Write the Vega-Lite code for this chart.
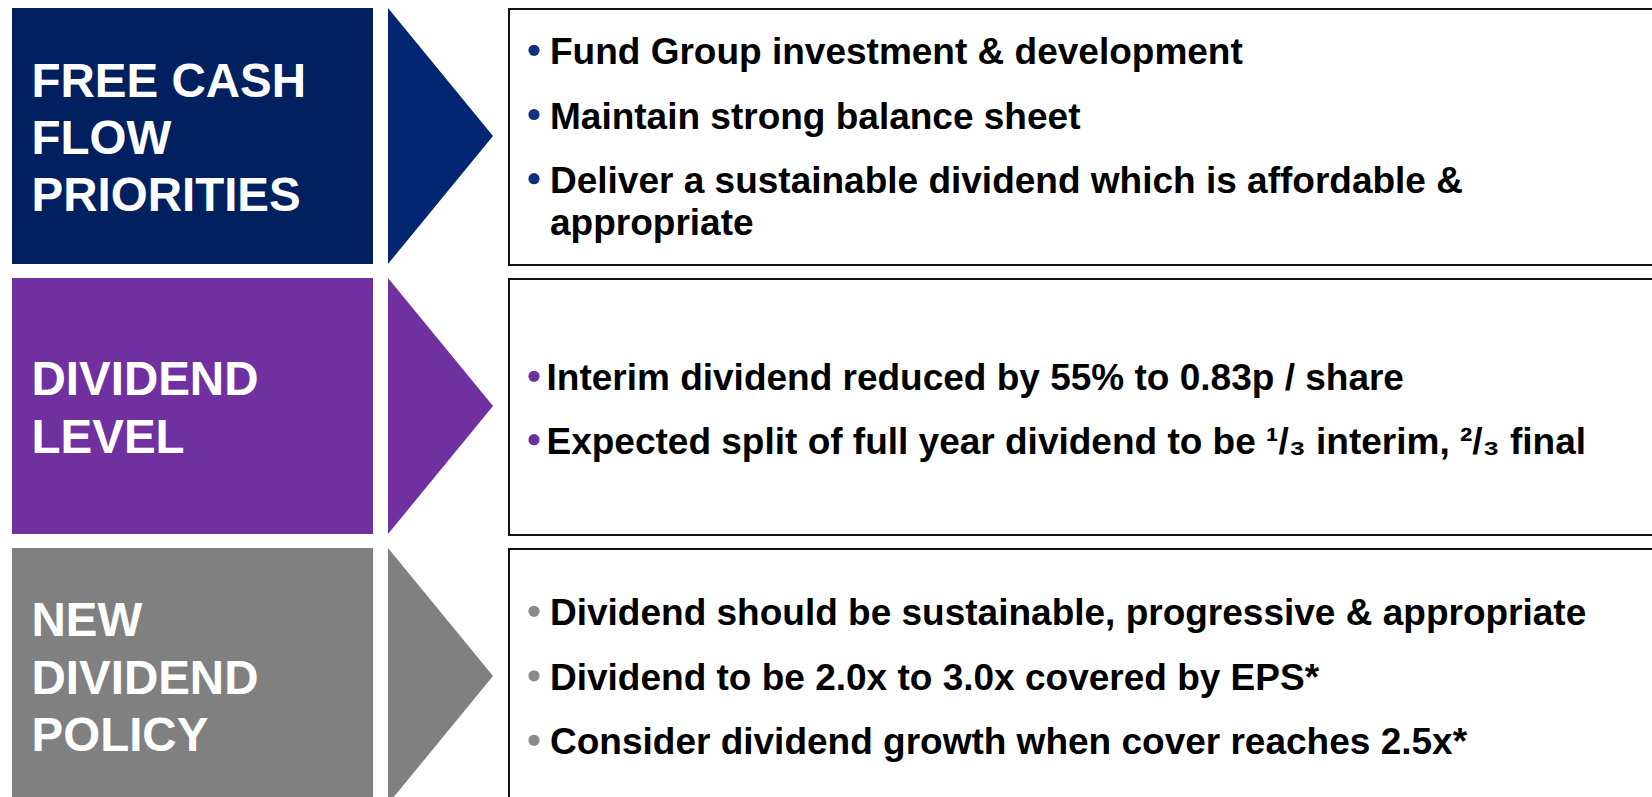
{
  "$schema": "https://vega.github.io/schema/vega-lite/v6.json",
  "background": "white",
  "padding": {"left": 12, "top": 7, "right": 0, "bottom": 0},
  "config": {"view": {"stroke": null}, "font": "Liberation Sans", "text": {"font": "Liberation Sans", "fontWeight": "bold"}},
  "datasets": {
    "sections": [
      {"section": "FREE CASH FLOW PRIORITIES"},
      {"section": "DIVIDEND LEVEL"},
      {"section": "NEW DIVIDEND POLICY"}
    ],
    "labels": [
      {"section": "FREE CASH FLOW PRIORITIES", "line": 1, "text": "FREE CASH"},
      {"section": "FREE CASH FLOW PRIORITIES", "line": 2, "text": "FLOW"},
      {"section": "FREE CASH FLOW PRIORITIES", "line": 3, "text": "PRIORITIES"},
      {"section": "DIVIDEND LEVEL", "line": 1, "text": "DIVIDEND"},
      {"section": "DIVIDEND LEVEL", "line": 2, "text": "LEVEL"},
      {"section": "NEW DIVIDEND POLICY", "line": 1, "text": "NEW"},
      {"section": "NEW DIVIDEND POLICY", "line": 2, "text": "DIVIDEND"},
      {"section": "NEW DIVIDEND POLICY", "line": 3, "text": "POLICY"}
    ],
    "items": [
      {"section": "FREE CASH FLOW PRIORITIES", "item": 1, "text": "Fund Group investment & development"},
      {"section": "FREE CASH FLOW PRIORITIES", "item": 2, "text": "Maintain strong balance sheet"},
      {"section": "FREE CASH FLOW PRIORITIES", "item": 3, "text": ["Deliver a sustainable dividend which is affordable &", "appropriate"]},
      {"section": "DIVIDEND LEVEL", "item": 1, "text": "Interim dividend reduced by 55% to 0.83p / share"},
      {"section": "DIVIDEND LEVEL", "item": 2, "text": "Expected split of full year dividend to be ¹/₃ interim, ²/₃ final"},
      {"section": "NEW DIVIDEND POLICY", "item": 1, "text": "Dividend should be sustainable, progressive & appropriate"},
      {"section": "NEW DIVIDEND POLICY", "item": 2, "text": "Dividend to be 2.0x to 3.0x covered by EPS*"},
      {"section": "NEW DIVIDEND POLICY", "item": 3, "text": "Consider dividend growth when cover reaches 2.5x*"}
    ]
  },
  "spacing": 15,
  "resolve": {"scale": {"color": "independent", "y": "independent"}},
  "hconcat": [
    {
      "width": 361, "height": 790,
      "resolve": {"scale": {"y": "independent"}},
      "layer": [
        {"data": {"name": "sections"},
         "mark": {"type": "rect"},
         "encoding": {
           "y": {"field": "section", "type": "nominal", "sort": null, "axis": null,
                 "scale": {"type": "band", "domain": ["FREE CASH FLOW PRIORITIES", "DIVIDEND LEVEL", "NEW DIVIDEND POLICY"], "range": [0, 796], "paddingInner": 0.0519, "paddingOuter": 0}},
           "color": {"field": "section", "type": "nominal", "legend": null,
                     "scale": {"domain": ["FREE CASH FLOW PRIORITIES", "DIVIDEND LEVEL", "NEW DIVIDEND POLICY"], "range": ["#002060", "#7030A0", "#808080"]}}
         }},
        {"data": {"name": "labels"}, "transform": [{"filter": "datum.section === 'FREE CASH FLOW PRIORITIES'"}],
         "mark": {"type": "text", "align": "left", "baseline": "alphabetic", "dx": -161, "fontSize": 47.5, "fontWeight": "bold", "color": "white"},
         "encoding": {
           "y": {"field": "line", "type": "quantitative", "axis": null, "scale": {"domain": [1, 3], "range": [88.7, 203.3], "nice": false, "zero": false}},
           "text": {"field": "text", "type": "nominal"}
         }},
        {"data": {"name": "labels"}, "transform": [{"filter": "datum.section === 'DIVIDEND LEVEL'"}],
         "mark": {"type": "text", "align": "left", "baseline": "alphabetic", "dx": -161, "fontSize": 47.5, "fontWeight": "bold", "color": "white"},
         "encoding": {
           "y": {"field": "line", "type": "quantitative", "axis": null, "scale": {"domain": [1, 2], "range": [387, 444.7], "nice": false, "zero": false}},
           "text": {"field": "text", "type": "nominal"}
         }},
        {"data": {"name": "labels"}, "transform": [{"filter": "datum.section === 'NEW DIVIDEND POLICY'"}],
         "mark": {"type": "text", "align": "left", "baseline": "alphabetic", "dx": -161, "fontSize": 47.5, "fontWeight": "bold", "color": "white"},
         "encoding": {
           "y": {"field": "line", "type": "quantitative", "axis": null, "scale": {"domain": [1, 3], "range": [628, 743], "nice": false, "zero": false}},
           "text": {"field": "text", "type": "nominal"}
         }}
      ]
    },
    {
      "width": 105, "height": 790,
      "data": {"name": "sections"},
      "mark": {"type": "point", "shape": "M-1,-2.4381L1,0L-1,2.4381Z", "size": 11025, "filled": true, "opacity": 1, "strokeWidth": 0},
      "encoding": {
        "y": {"field": "section", "type": "nominal", "sort": null, "axis": null,
              "scale": {"type": "band", "domain": ["FREE CASH FLOW PRIORITIES", "DIVIDEND LEVEL", "NEW DIVIDEND POLICY"], "range": [0, 796], "paddingInner": 0.0519, "paddingOuter": 0}},
        "color": {"field": "section", "type": "nominal", "legend": null,
                  "scale": {"domain": ["FREE CASH FLOW PRIORITIES", "DIVIDEND LEVEL", "NEW DIVIDEND POLICY"], "range": ["#032672", "#7030A0", "#808080"]}}
      }
    },
    {
      "width": 1144, "height": 790,
      "resolve": {"scale": {"y": "independent"}},
      "layer": [
        {"data": {"name": "sections"},
         "mark": {"type": "rect", "fill": "white", "stroke": "#111111", "strokeWidth": 2, "xOffset": 1, "yOffset": 1, "y2Offset": -1, "x2Offset": 20},
         "encoding": {
           "y": {"field": "section", "type": "nominal", "sort": null, "axis": null,
                 "scale": {"type": "band", "domain": ["FREE CASH FLOW PRIORITIES", "DIVIDEND LEVEL", "NEW DIVIDEND POLICY"], "range": [0, 796], "paddingInner": 0.0519, "paddingOuter": 0}}
         }},
        {"data": {"name": "items"}, "transform": [{"filter": "datum.section === 'FREE CASH FLOW PRIORITIES'"}],
         "mark": {"type": "circle", "size": 125, "opacity": 1, "color": "#12307F", "xOffset": -547, "yOffset": -14},
         "encoding": {
           "y": {"field": "item", "type": "quantitative", "axis": null, "scale": {"domain": [1, 3], "range": [56.3, 184.7], "nice": false, "zero": false}}
         }},
        {"data": {"name": "items"}, "transform": [{"filter": "datum.section === 'FREE CASH FLOW PRIORITIES'"}],
         "mark": {"type": "text", "align": "left", "baseline": "alphabetic", "dx": -531, "fontSize": 37, "fontWeight": "bold", "lineHeight": 42, "color": "black"},
         "encoding": {
           "y": {"field": "item", "type": "quantitative", "axis": null, "scale": {"domain": [1, 3], "range": [56.3, 184.7], "nice": false, "zero": false}},
           "text": {"field": "text", "type": "nominal"}
         }},
        {"data": {"name": "items"}, "transform": [{"filter": "datum.section === 'DIVIDEND LEVEL'"}],
         "mark": {"type": "circle", "size": 125, "opacity": 1, "color": "#7030A0", "xOffset": -547, "yOffset": -14},
         "encoding": {
           "y": {"field": "item", "type": "quantitative", "axis": null, "scale": {"domain": [1, 2], "range": [382.3, 445.7], "nice": false, "zero": false}}
         }},
        {"data": {"name": "items"}, "transform": [{"filter": "datum.section === 'DIVIDEND LEVEL'"}],
         "mark": {"type": "text", "align": "left", "baseline": "alphabetic", "dx": -534.5, "fontSize": 37, "fontWeight": "bold", "lineHeight": 42, "color": "black"},
         "encoding": {
           "y": {"field": "item", "type": "quantitative", "axis": null, "scale": {"domain": [1, 2], "range": [382.3, 445.7], "nice": false, "zero": false}},
           "text": {"field": "text", "type": "nominal"}
         }},
        {"data": {"name": "items"}, "transform": [{"filter": "datum.section === 'NEW DIVIDEND POLICY'"}],
         "mark": {"type": "circle", "size": 125, "opacity": 1, "color": "#8A8A8A", "xOffset": -547, "yOffset": -14},
         "encoding": {
           "y": {"field": "item", "type": "quantitative", "axis": null, "scale": {"domain": [1, 3], "range": [617.3, 746.3], "nice": false, "zero": false}}
         }},
        {"data": {"name": "items"}, "transform": [{"filter": "datum.section === 'NEW DIVIDEND POLICY'"}],
         "mark": {"type": "text", "align": "left", "baseline": "alphabetic", "dx": -531, "fontSize": 37, "fontWeight": "bold", "lineHeight": 42, "color": "black"},
         "encoding": {
           "y": {"field": "item", "type": "quantitative", "axis": null, "scale": {"domain": [1, 3], "range": [617.3, 746.3], "nice": false, "zero": false}},
           "text": {"field": "text", "type": "nominal"}
         }}
      ]
    }
  ]
}
